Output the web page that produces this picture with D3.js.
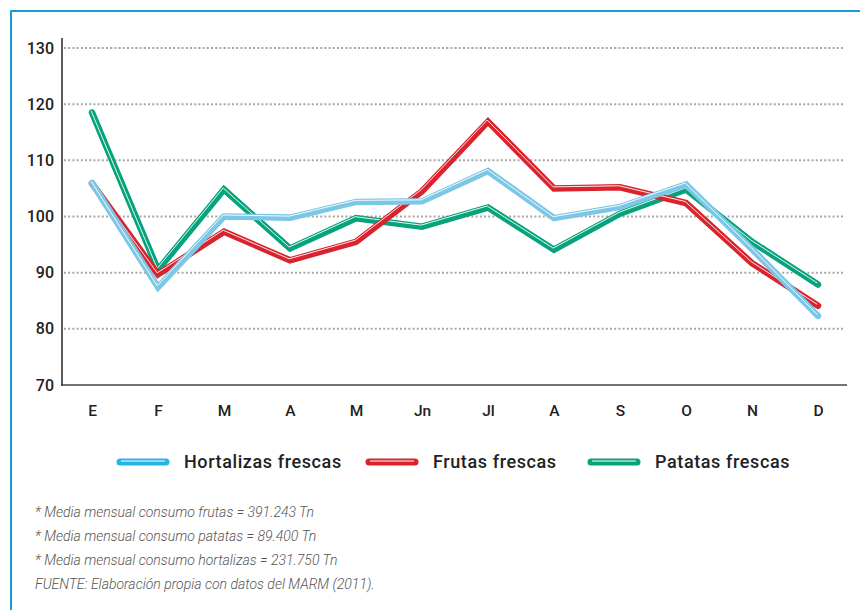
<!DOCTYPE html>
<html>
<head>
<meta charset="utf-8">
<script src="https://cdn.jsdelivr.net/npm/d3@7"></script>
<style>
  body { margin: 0; background: #fff; }
  svg { display: block; }
</style>
</head>
<body>
<div id="chart"></div>
<script>
// months and monthly consumption index (mean = 100)
var months = ['E', 'F', 'M', 'A', 'M', 'Jn', 'Jl', 'A', 'S', 'O', 'N', 'D'];
var hortalizas = [106.0, 87.4, 100.0, 99.8, 102.6, 102.7, 108.1, 99.7, 101.7, 105.7, 94.2, 82.3];
var frutas = [105.9, 89.7, 97.3, 92.2, 95.5, 104.5, 116.9, 105.0, 105.2, 102.4, 91.7, 84.1];
var patatas = [118.5, 90.5, 104.8, 94.3, 99.7, 98.2, 101.6, 94.1, 100.5, 104.8, 95.5, 87.9];
var yTicks = [70, 80, 90, 100, 110, 120, 130];
var notes = [
  '* Media mensual consumo frutas = 391.243 Tn',
  '* Media mensual consumo patatas = 89.400 Tn',
  '* Media mensual consumo hortalizas = 231.750 Tn',
  'FUENTE: Elaboración propia con datos del MARM (2011).'
];

var W = 860, H = 610;

// drawing order: green at the back, blue on top
var series = [
  {name: 'Patatas frescas', values: patatas, color: '#06a37c', legend: '#06a37c'},
  {name: 'Frutas frescas', values: frutas, color: '#d9232d', legend: '#d9232d'},
  {name: 'Hortalizas frescas', values: hortalizas, color: '#7cc7e5', legend: '#22b5ea'}
];
var legendOrder = [series[2], series[1], series[0]];

var svg = d3.select('#chart').append('svg')
  .attr('width', W)
  .attr('height', H);

// blue frame, open on the right and bottom
svg.append('path')
  .attr('d', 'M11,611 L11,11 L861,11')
  .attr('fill', 'none')
  .attr('stroke', '#1b9ad5')
  .attr('stroke-width', 2);

var x = d3.scalePoint().domain(d3.range(months.length)).range([92, 818]);
var y = d3.scaleLinear().domain([70, 130]).range([385, 48]);

// dotted grid
svg.selectAll('.grid')
  .data(yTicks.filter(function(t){ return t > 70; }))
  .enter()
  .append('line')
    .attr('class', 'grid')
    .attr('x1', 64)
    .attr('x2', 845)
    .attr('y1', function(t){ return y(t); })
    .attr('y2', function(t){ return y(t); })
    .attr('stroke', '#a6a6a6')
    .attr('stroke-width', 2)
    .attr('stroke-dasharray', '2,2.2');

// y axis
var yAxis = svg.append('g')
  .attr('transform', 'translate(62,0)')
  .call(d3.axisLeft(y).tickValues(yTicks).tickSize(0).tickPadding(8));
yAxis.select('.domain').remove();
yAxis.selectAll('text')
  .attr('fill', '#222')
  .style('font-family', 'Roboto, "DejaVu Sans", sans-serif')
  .style('font-size', '16px')
  .style('font-weight', '500');

svg.append('line')
  .attr('x1', 62).attr('x2', 62)
  .attr('y1', 38).attr('y2', 386)
  .attr('stroke', '#333')
  .attr('stroke-width', 1.6);

// x axis
var xAxis = svg.append('g')
  .attr('transform', 'translate(0,385)')
  .call(d3.axisBottom(x).tickFormat(function(i){ return months[i]; }).tickSize(0).tickPadding(20));
xAxis.select('.domain').remove();
xAxis.selectAll('text')
  .attr('fill', '#222')
  .style('font-family', 'Roboto, "DejaVu Sans", sans-serif')
  .style('font-size', '15.5px')
  .style('font-weight', '500');

svg.append('line')
  .attr('x1', 61).attr('x2', 847)
  .attr('y1', 385).attr('y2', 385)
  .attr('stroke', '#444')
  .attr('stroke-width', 1.6);

// lines: thick colour stroke with a thin white highlight
var line = d3.line()
  .x(function(d, i){ return x(i); })
  .y(function(d){ return y(d); });

series.forEach(function(s){
  svg.append('path')
    .datum(s.values)
    .attr('d', line)
    .attr('fill', 'none')
    .attr('stroke', s.color)
    .attr('stroke-width', 6.5)
    .attr('stroke-linejoin', 'miter')
    .attr('stroke-linecap', 'round');
  svg.append('path')
    .datum(s.values)
    .attr('d', line)
    .attr('transform', 'translate(-0.8,-1.5)')
    .attr('fill', 'none')
    .attr('stroke', '#fff')
    .attr('stroke-width', 1)
    .attr('stroke-opacity', 0.9);
});

// legend
var legendX = [117, 366, 588];
var legend = svg.selectAll('.legend')
  .data(legendOrder)
  .enter()
  .append('g')
    .attr('class', 'legend')
    .attr('transform', function(d, i){ return 'translate(' + legendX[i] + ',462)'; });

legend.append('line')
  .attr('x1', 3).attr('x2', 49)
  .attr('stroke', function(d){ return d.legend; })
  .attr('stroke-width', 7)
  .attr('stroke-linecap', 'round');
legend.append('line')
  .attr('x1', 4).attr('x2', 48)
  .attr('y1', -1).attr('y2', -1)
  .attr('stroke', '#fff')
  .attr('stroke-width', 1.2);
legend.append('text')
  .attr('x', 67)
  .attr('y', 6)
  .attr('fill', '#222')
  .style('font-family', 'Roboto, "DejaVu Sans", sans-serif')
  .style('font-size', '18px')
  .style('font-weight', '500')
  .style('letter-spacing', '0.6px')
  .text(function(d){ return d.name; });

// footnotes
svg.selectAll('.note')
  .data(notes)
  .enter()
  .append('text')
    .attr('class', 'note')
    .attr('x', 35)
    .attr('y', function(d, i){ return 517 + i * 24; })
    .attr('fill', '#555')
    .style('font-family', 'Roboto, "DejaVu Sans", sans-serif')
    .style('font-size', '14px')
    .style('font-style', 'italic')
    .style('font-weight', '300')
    .text(function(d){ return d; });
</script>
</body>
</html>
